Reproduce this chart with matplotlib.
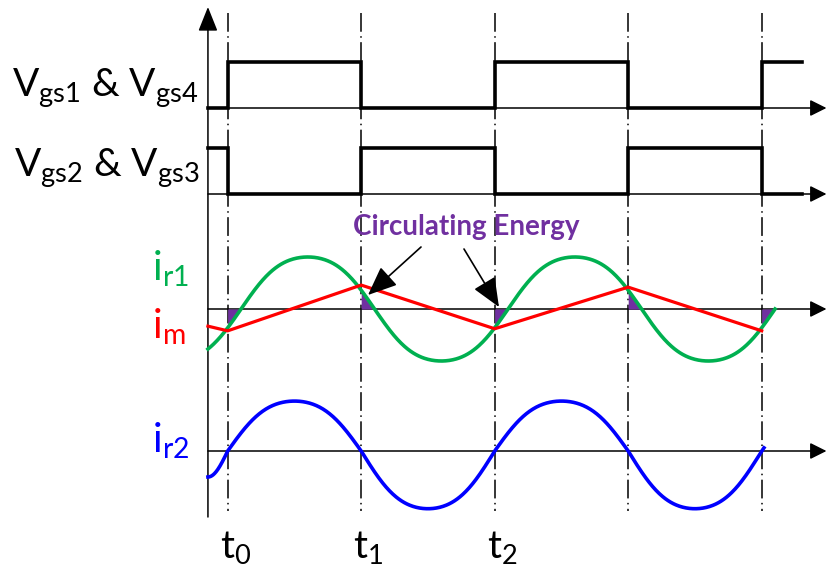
import numpy as np
import matplotlib
matplotlib.use("Agg")
import matplotlib.pyplot as plt

plt.rcParams["font.family"] = ["Lato", "DejaVu Sans"]
plt.rcParams["mathtext.fontset"] = "custom"
plt.rcParams["mathtext.rm"] = "Lato"
plt.rcParams["mathtext.it"] = "Lato:italic"
plt.rcParams["mathtext.bf"] = "Lato:bold"
plt.rcParams["lines.scale_dashes"] = False

# ---- timing (units of half switching period, t0 = 0) ----
T_EDGES = [0, 1, 2, 3, 4]
T_LABELS = [r"t$_{\mathrm{0}}$", r"t$_{\mathrm{1}}$", r"t$_{\mathrm{2}}$"]
T_START = -0.148
T_GATE_END = 4.30
T_AXIS_END = 4.485

# gate drive levels for each interval: before t0, t0-t1, ..., after t4
VGS14_LEVELS = [0, 1, 0, 1, 0, 1]
VGS23_LEVELS = [1, 0, 1, 0, 1, 0]

# resonant / magnetising currents, normalised to the i_r1 peak
IR1_PEAK = 1.0
IR1_DELAY = 0.10
IR1_END = 4.10
IM_T = [T_START, 0, 1, 2, 3, 4]
IM_VALUES = [-0.33, -0.42, 0.46, -0.38, 0.42, -0.42]
IR2_PEAK_POS = 0.96
IR2_PEAK_NEG = 1.11
IR2_START_VALUE = -0.50
IR2_END = 4.017
WAVE_K = 0.045   # 3rd-harmonic flattening of the drawn sine

# ---- layout (pixel rows, axes y is inverted) ----
ROW_VGS14 = 108
ROW_VGS23 = 194
ROW_IR1 = 309
ROW_IR2 = 451
GATE_SCALE = 46
CURRENT_SCALE = 52

GREEN = "#00B050"
RED = "#FF0000"
BLUE = "#0000FF"
PURPLE = "#7030A0"


def shaped_wave(theta, k=WAVE_K):
    return (np.sin(theta) + k * np.sin(3 * theta)) / (1 - k)


def axis_arrow(ax, start, end, head="-|>,head_length=1.0,head_width=0.5"):
    ax.annotate("", xy=end, xytext=start,
                arrowprops=dict(arrowstyle=head, color="black", lw=1.1,
                                shrinkA=0, shrinkB=0, mutation_scale=10),
                zorder=2)


fig = plt.figure(figsize=(8.27, 5.67), dpi=100)
ax = fig.add_axes([0, 0, 1, 1])
ax.set_xlim(-227.7 / 133.5, (827 - 227.7) / 133.5)
ax.set_ylim(567, 0)
ax.axis("off")

# axes
axis_arrow(ax, (T_START, 517), (T_START, 7),
           head="-|>,head_length=1.5,head_width=0.6")
for row in [ROW_VGS14, ROW_VGS23, ROW_IR1, ROW_IR2]:
    axis_arrow(ax, (T_START, row), (T_AXIS_END, row))

# switching instants
for te in T_EDGES:
    ax.plot([te, te], [13, 511], color="black", lw=1.1,
            linestyle=(0, (13.5, 3.2, 1.1, 3.2)), zorder=1)

# gate signals
gate_t = [T_START] + T_EDGES + [T_GATE_END]
for row, levels in [(ROW_VGS14, VGS14_LEVELS), (ROW_VGS23, VGS23_LEVELS)]:
    lv = np.array(levels + [levels[-1]])
    ax.step(gate_t, row - GATE_SCALE * lv, where="post", color="black",
            lw=2.6, solid_joinstyle="miter", zorder=3)

# i_r1
t_r1 = np.linspace(T_START, IR1_END, 800)
i_r1 = IR1_PEAK * shaped_wave(np.pi * (t_r1 - IR1_DELAY))
ax.plot(t_r1, ROW_IR1 - CURRENT_SCALE * i_r1, color=GREEN, lw=2.6, zorder=5)

# circulating energy: between i_r1 and zero after each edge
for te in T_EDGES:
    tt = np.linspace(te, te + IR1_DELAY, 40)
    ii = IR1_PEAK * shaped_wave(np.pi * (tt - IR1_DELAY))
    ax.fill_between(tt, ROW_IR1 - CURRENT_SCALE * ii, ROW_IR1,
                    color=PURPLE, lw=0, zorder=4)

# i_m
ax.plot(IM_T, ROW_IR1 - CURRENT_SCALE * np.array(IM_VALUES), color=RED,
        lw=2.3, solid_joinstyle="miter", zorder=6)

# i_r2
t_a = np.linspace(T_START, 0, 60)
i_a = -IR2_START_VALUE * np.sin(np.pi / 2 * t_a / -T_START)
t_b = np.linspace(0, IR2_END, 800)
w_b = shaped_wave(np.pi * t_b)
i_b = np.where(w_b > 0, IR2_PEAK_POS, IR2_PEAK_NEG) * w_b
t_r2 = np.concatenate([t_a, t_b])
i_r2 = np.concatenate([i_a, i_b])
ax.plot(t_r2, ROW_IR2 - CURRENT_SCALE * i_r2, color=BLUE, lw=2.6, zorder=5)

# labels
ax.text(-0.221, 97, r"V$_{\mathrm{gs1}}$ & V$_{\mathrm{gs4}}$", fontsize=28,
        ha="right", va="baseline")
ax.text(-0.207, 177, r"V$_{\mathrm{gs2}}$ & V$_{\mathrm{gs3}}$", fontsize=28,
        ha="right", va="baseline")
ax.text(-0.567, 281, r"i$_{\mathrm{r1}}$", fontsize=29, color=GREEN,
        ha="left", va="baseline")
ax.text(-0.567, 339, r"i$_{\mathrm{m}}$", fontsize=29, color=RED,
        ha="left", va="baseline")
ax.text(-0.567, 453, r"i$_{\mathrm{r2}}$", fontsize=29, color=BLUE,
        ha="left", va="baseline")
for te, lab in zip(T_EDGES, T_LABELS):
    ax.text(te - 0.058, 558, lab, fontsize=28, ha="left", va="baseline")

ax.text(0.939, 235, "Circulating Energy", fontsize=20, fontweight="bold",
        color=PURPLE, ha="left", va="baseline", zorder=7)
for start, tip in [((1.448, 247), (1.051, 295)), ((1.770, 249), (2.032, 307))]:
    ax.annotate("", xy=tip, xytext=start,
                arrowprops=dict(arrowstyle="-|>,head_length=0.9,head_width=0.38",
                                color="black", lw=1.2, shrinkA=0, shrinkB=0,
                                mutation_scale=20),
                zorder=8)

fig.savefig("out.png", dpi=100)
